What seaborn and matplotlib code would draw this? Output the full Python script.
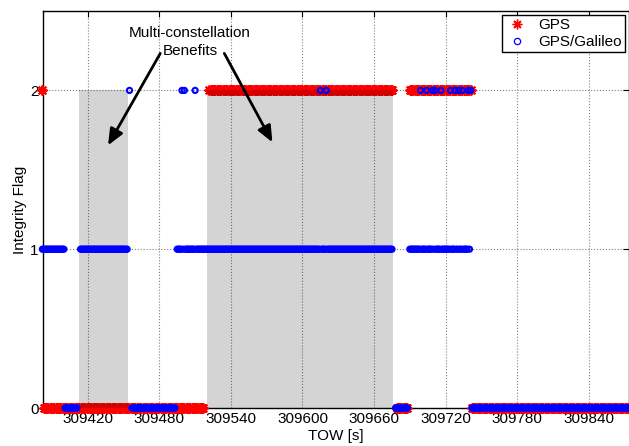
import numpy as np
import pandas as pd
import matplotlib
matplotlib.use("Agg")
import matplotlib.pyplot as plt
from matplotlib.lines import Line2D
import seaborn as sns

# --- Integrity flag runs (TOW of first / last epoch, 1 Hz, and the flag) ---
GPS_SEG_START = [309382, 309383, 309522, 309679, 309690, 309742]
GPS_SEG_END = [309382, 309517, 309675, 309688, 309741, 309874]
GPS_SEG_FLAG = [2, 0, 2, 0, 2, 0]

GAL_SEG_START = [309382, 309401, 309414, 309455, 309457, 309495, 309678, 309690, 309742]
GAL_SEG_END = [309400, 309411, 309453, 309455, 309493, 309675, 309688, 309741, 309874]
GAL_SEG_FLAG = [1, 0, 1, 2, 0, 1, 0, 1, 0]

# GPS/Galileo epochs inside the flag-1 runs where the flag is 2
GAL_FLAG2_TOW = [309499, 309501, 309510, 309615, 309620, 309699, 309704, 309709,
                 309711, 309716, 309724, 309728, 309731, 309734, 309739, 309741]

# Intervals where the multi-constellation solution improves the flag
SPAN_START = [309413, 309520]
SPAN_END = [309454, 309676]

XTICKS = [309420, 309480, 309540, 309600, 309660, 309720, 309780, 309840]
XTICK_LABELS = ["309420", "309480", "309540", "309600", "309660", "309720", "309780", "309840"]
YTICKS = [0, 1, 2]
YTICK_LABELS = ["0", "1", "2"]


def expand_runs(starts, ends, flags):
    tow, flag = [], []
    for s, e, f in zip(starts, ends, flags):
        t = np.arange(s, e + 1)
        tow.append(t)
        flag.append(np.full(t.size, f))
    return pd.DataFrame({"TOW": np.concatenate(tow), "Flag": np.concatenate(flag)})


gps = expand_runs(GPS_SEG_START, GPS_SEG_END, GPS_SEG_FLAG)
gal = expand_runs(GAL_SEG_START, GAL_SEG_END, GAL_SEG_FLAG)
gal.loc[gal["TOW"].isin(GAL_FLAG2_TOW), "Flag"] = 2

sns.set_style("white")
plt.rcParams["font.family"] = ["Liberation Sans", "DejaVu Sans"]
plt.rcParams["font.size"] = 11
for key in ("text.color", "axes.labelcolor", "xtick.color", "ytick.color"):
    plt.rcParams[key] = "black"

W, H = 629, 446
fig = plt.figure(figsize=(W / 100, H / 100), dpi=100)
left_px, right_px, top_px, bottom_px = 42.7, 629.0, 11.0, 408.0
ax = fig.add_axes([left_px / W, 1 - bottom_px / H,
                   (right_px - left_px) / W, (bottom_px - top_px) / H])

ASTERISK = (8, 2, 0)
sns.scatterplot(data=gps, x="TOW", y="Flag", ax=ax, marker=ASTERISK, color="#ff0000",
                s=40, linewidth=1.4, zorder=3, clip_on=False, legend=False)

# shaded benefit intervals (darkening overlay)
for s, e in zip(SPAN_START, SPAN_END):
    ax.fill_between([s, e], 0, 2, color="black", alpha=0.17, linewidth=0, zorder=3.5)

sns.scatterplot(data=gal, x="TOW", y="Flag", ax=ax, marker="o", color="#0000ff",
                facecolor="none", edgecolor="#0000ff", s=14, linewidth=1.5,
                zorder=4, clip_on=False, legend=False)

ax.set_xlim(309382.25, 309873.7)
ax.set_ylim(0, 2.5)
ax.set_xticks(XTICKS)
ax.set_xticklabels(XTICK_LABELS)
ax.set_yticks(YTICKS)
ax.set_yticklabels(YTICK_LABELS)
ax.set_xlabel("TOW [s]", fontsize=11, labelpad=2)
ax.set_ylabel("Integrity Flag", fontsize=11, labelpad=2)

ax.grid(True, linestyle=":", color="#808080", linewidth=0.8)
ax.set_axisbelow(True)
ax.tick_params(direction="in", length=4, width=0.8, top=True, right=True,
               labelsize=11, colors="black", pad=3)
for sp in ax.spines.values():
    sp.set_visible(True)
    sp.set_color("black")
    sp.set_linewidth(1.0)

# annotation
ax.text(309505.8, 2.304, "Multi-constellation\nBenefits", ha="center", va="center",
        fontsize=11, linespacing=1.3, zorder=6)
arrow_kw = dict(arrowstyle="-|>,head_length=0.7,head_width=0.3", color="black",
                lw=2, mutation_scale=14, shrinkA=0, shrinkB=0)
ax.annotate("", xy=(309437.0, 1.654), xytext=(309480.8, 2.233), arrowprops=arrow_kw, zorder=6)
ax.annotate("", xy=(309574.8, 1.673), xytext=(309534.5, 2.233), arrowprops=arrow_kw, zorder=6)

handles = [
    Line2D([], [], linestyle="none", marker=ASTERISK, color="#ff0000",
           markersize=7, markeredgewidth=1.0, label="GPS"),
    Line2D([], [], linestyle="none", marker="o", markerfacecolor="none",
           markeredgecolor="#0000ff", markersize=4.5, markeredgewidth=0.9, label="GPS/Galileo"),
]
leg = ax.legend(handles=handles, loc="upper right", fontsize=11, frameon=True,
                fancybox=False, framealpha=1, edgecolor="black", borderaxespad=0.25,
                borderpad=0.2, labelspacing=0.2, handlelength=1.6, handletextpad=0.6)
leg.get_frame().set_linewidth(1.0)
leg.set_zorder(10)

fig.savefig("out.png", dpi=100)
